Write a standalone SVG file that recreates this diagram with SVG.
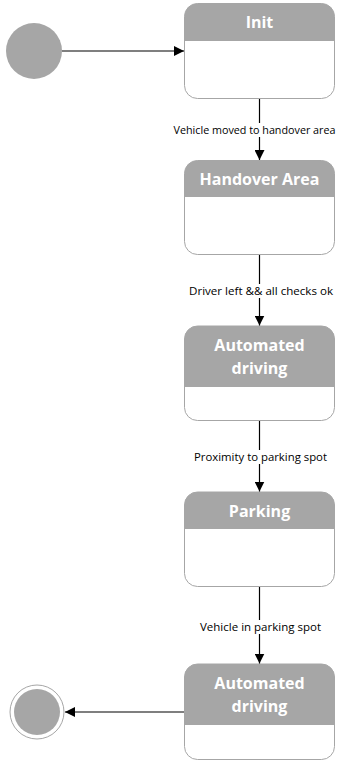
<svg xmlns="http://www.w3.org/2000/svg" width="347" height="762" viewBox="0 0 347 762">
<style>
.box{fill:#ffffff;stroke:#a6a6a6;stroke-width:1}
.hdr{fill:#a6a6a6}
.ht{font-family:"Open Sans","Liberation Sans",sans-serif;font-weight:bold;font-size:16px;fill:#ffffff;text-anchor:middle}
.lbl{font-family:"Open Sans","Liberation Sans",sans-serif;font-size:10.5px;fill:#000000;text-anchor:middle}
.edge{stroke:#000000;stroke-width:1.2;fill:none}
</style>
<defs>
<marker id="arr" viewBox="0 0 10 10" refX="10" refY="5" markerWidth="10" markerHeight="10" markerUnits="userSpaceOnUse" orient="auto">
<path d="M0,0 L10,5 L0,10 z" fill="#000000"/>
</marker>
</defs>
<rect width="347" height="762" fill="#ffffff"/>
<g id="start">
<circle cx="34" cy="51" r="28" fill="#a6a6a6"/>
</g>
<g id="init">
<rect class="box" x="184.5" y="3.5" width="150" height="95" rx="13"/>
<path class="hdr" d="M184.5,41 V16.5 A13,13 0 0 1 197.5,3.5 H321.5 A13,13 0 0 1 334.5,16.5 V41 Z"/>
<text class="ht" x="259.5" y="28">Init</text>
</g>
<g id="handover">
<rect class="box" x="184.5" y="160.5" width="150" height="94" rx="13"/>
<path class="hdr" d="M184.5,197 V173.5 A13,13 0 0 1 197.5,160.5 H321.5 A13,13 0 0 1 334.5,173.5 V197 Z"/>
<text class="ht" x="259.5" y="185">Handover Area</text>
</g>
<g id="auto1">
<rect class="box" x="184.5" y="326" width="150" height="94.5" rx="13"/>
<path class="hdr" d="M184.5,387 V339 A13,13 0 0 1 197.5,326 H321.5 A13,13 0 0 1 334.5,339 V387 Z"/>
<text class="ht" x="259.5" y="351">Automated</text>
<text class="ht" x="259.5" y="374">driving</text>
</g>
<g id="parking">
<rect class="box" x="184.5" y="492" width="150" height="94.5" rx="13"/>
<path class="hdr" d="M184.5,529 V505 A13,13 0 0 1 197.5,492 H321.5 A13,13 0 0 1 334.5,505 V529 Z"/>
<text class="ht" x="259.5" y="517">Parking</text>
</g>
<g id="auto2">
<rect class="box" x="184.5" y="664" width="150" height="95.5" rx="13"/>
<path class="hdr" d="M184.5,725 V677 A13,13 0 0 1 197.5,664 H321.5 A13,13 0 0 1 334.5,677 V725 Z"/>
<text class="ht" x="259.5" y="689">Automated</text>
<text class="ht" x="259.5" y="712">driving</text>
</g>
<g id="end">
<circle cx="37" cy="712" r="27" fill="#ffffff" stroke="#a6a6a6" stroke-width="1"/>
<circle cx="37" cy="712" r="23" fill="#a6a6a6"/>
</g>
<g id="connectors">
<path class="edge" d="M62,51 H184" marker-end="url(#arr)"/>
<path class="edge" d="M259.5,99 V160" marker-end="url(#arr)"/>
<path class="edge" d="M259.5,255 V325.5" marker-end="url(#arr)"/>
<path class="edge" d="M259.5,421 V491.5" marker-end="url(#arr)"/>
<path class="edge" d="M259.5,587 V663.5" marker-end="url(#arr)"/>
<path class="edge" d="M184,712 H65" marker-end="url(#arr)"/>
<rect x="172" y="123" width="166" height="14" fill="#ffffff"/>
<text class="lbl" x="254.5" y="134" textLength="162" lengthAdjust="spacingAndGlyphs">Vehicle moved to handover area</text>
<rect x="188" y="284" width="146" height="14" fill="#ffffff"/>
<text class="lbl" x="261" y="295" textLength="144" lengthAdjust="spacingAndGlyphs">Driver left &amp;&amp; all checks ok</text>
<rect x="193" y="450" width="134" height="14" fill="#ffffff"/>
<text class="lbl" x="260.5" y="461" textLength="133" lengthAdjust="spacingAndGlyphs">Proximity to parking spot</text>
<rect x="199" y="620" width="122" height="14" fill="#ffffff"/>
<text class="lbl" x="260.5" y="631" textLength="121" lengthAdjust="spacingAndGlyphs">Vehicle in parking spot</text>
</g>
</svg>
